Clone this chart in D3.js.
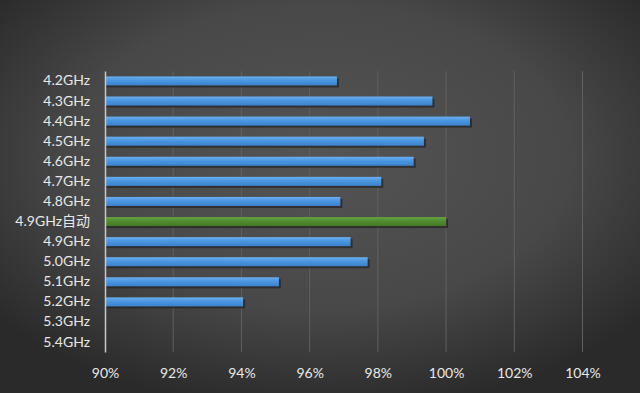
<!DOCTYPE html>
<html>
<head>
<meta charset="utf-8">
<script src="https://cdn.jsdelivr.net/npm/d3@7"></script>
<style>
  html, body { margin: 0; padding: 0; background: #2b2b2b; }
  svg { display: block; }
  text { font-family: Lato, "Noto Sans CJK SC", sans-serif; }
</style>
</head>
<body>
<svg id="chart"></svg>
<script>
// frequency settings and relative score (%)
const categories = ["4.2GHz", "4.3GHz", "4.4GHz", "4.5GHz", "4.6GHz", "4.7GHz", "4.8GHz",
  "4.9GHz自动", "4.9GHz", "5.0GHz", "5.1GHz", "5.2GHz", "5.3GHz", "5.4GHz"];
const values = [96.8, 99.6, 100.7, 99.35, 99.05, 98.1, 96.9, 100, 97.2, 97.7, 95.1, 94.05, null, null];
const ticks = [90, 92, 94, 96, 98, 100, 102, 104];
const highlight = "4.9GHz自动";

const width = 640, height = 393;
const margin = { top: 71, right: 40, bottom: 41, left: 105 };

const svg = d3.select('#chart')
  .attr('width', width)
  .attr('height', height);

const defs = svg.append('defs');

// background gradient
const bg = defs.append('radialGradient')
  .attr('id', 'bg')
  .attr('cx', '50%').attr('cy', '40%').attr('r', '65%');
bg.append('stop').attr('offset', '0%').attr('stop-color', '#545454');
bg.append('stop').attr('offset', '60%').attr('stop-color', '#484848');
bg.append('stop').attr('offset', '100%').attr('stop-color', '#2a2a2a');

const blue = defs.append('linearGradient').attr('id', 'blue')
  .attr('x1', 0).attr('y1', 0).attr('x2', 0).attr('y2', 1);
blue.append('stop').attr('offset', '0%').attr('stop-color', '#6aaef0');
blue.append('stop').attr('offset', '45%').attr('stop-color', '#4a96e0');
blue.append('stop').attr('offset', '100%').attr('stop-color', '#3b82cb');

const green = defs.append('linearGradient').attr('id', 'green')
  .attr('x1', 0).attr('y1', 0).attr('x2', 0).attr('y2', 1);
green.append('stop').attr('offset', '0%').attr('stop-color', '#64a040');
green.append('stop').attr('offset', '45%').attr('stop-color', '#528c30');
green.append('stop').attr('offset', '100%').attr('stop-color', '#437a26');

svg.append('rect')
  .attr('width', width).attr('height', height)
  .attr('fill', 'url(#bg)');

const x = d3.scaleLinear()
  .domain([90, 104])
  .range([margin.left, 582.5]);

const y = d3.scaleBand()
  .domain(categories)
  .range([margin.top, height - margin.bottom])
  .paddingInner(0.55)
  .paddingOuter(0.27);

// grid lines
svg.append('g')
  .selectAll('line')
  .data(ticks.slice(1))
  .join('line')
  .attr('x1', d => x(d)).attr('x2', d => x(d))
  .attr('y1', margin.top).attr('y2', height - margin.bottom)
  .attr('stroke', '#606060')
  .attr('stroke-width', 1);

const data = categories.map((c, i) => ({ cat: c, val: values[i] }))
  .filter(d => d.val != null);

// shadow
svg.append('g')
  .selectAll('rect')
  .data(data)
  .join('rect')
  .attr('x', x(90) + 1)
  .attr('y', d => y(d.cat) + 2)
  .attr('width', d => x(d.val) - x(90) + 1)
  .attr('height', y.bandwidth())
  .attr('fill', '#222')
  .attr('opacity', 0.7);

svg.append('g')
  .selectAll('rect')
  .data(data)
  .join('rect')
  .attr('x', x(90))
  .attr('y', d => y(d.cat))
  .attr('width', d => x(d.val) - x(90))
  .attr('height', y.bandwidth())
  .attr('fill', d => d.cat === highlight ? 'url(#green)' : 'url(#blue)');

// y axis
const yAxis = svg.append('g')
  .attr('transform', `translate(${x(90)},0)`)
  .call(d3.axisLeft(y).tickSize(0).tickPadding(15));
yAxis.select('.domain')
  .attr('stroke', '#c8c8c8')
  .attr('stroke-width', 1.5);
yAxis.selectAll('text')
  .attr('fill', '#e8e8e8')
  .style('font-size', '14px');

// x axis
const xAxis = svg.append('g')
  .attr('transform', `translate(0,${height - margin.bottom})`)
  .call(d3.axisBottom(x).tickValues(ticks).tickSize(0).tickPadding(16)
    .tickFormat(d => d + '%'));
xAxis.select('.domain').remove();
xAxis.selectAll('text')
  .attr('fill', '#e8e8e8')
  .style('font-size', '14px');
</script>
</body>
</html>
